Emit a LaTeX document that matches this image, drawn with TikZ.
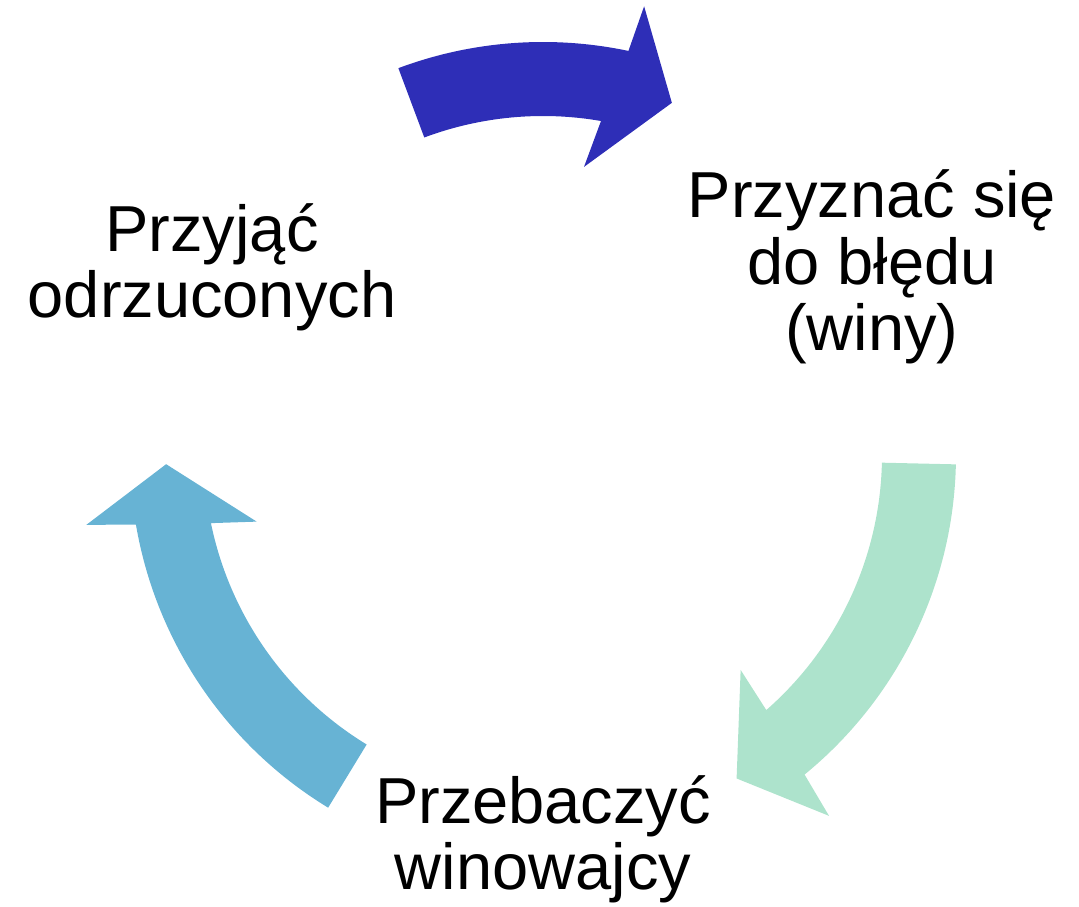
\documentclass[tikz,border=0pt]{standalone}
\usepackage{fontspec}
\setmainfont{Liberation Sans}
\definecolor{arrowtop}{RGB}{46,46,183}
\definecolor{arrowright}{RGB}{173,227,204}
\definecolor{arrowleft}{RGB}{103,179,212}
\tikzset{
  cyclelabel/.style={align=center, inner sep=0pt, anchor=base, font=\fontsize{65pt}{66.5pt}\selectfont},
}
\begin{document}
\begin{tikzpicture}[x=1pt,y=1pt]
\useasboundingbox (0,0) rectangle (1079,907);
\begin{scope}[shift={(543,452)}]
  % top arrow
  \fill[arrowtop] (110.5:413) arc[start angle=110.5, end angle=78.06, radius=413]
    -- (77.3:460) -- (69.9:375) -- (81.9:291) -- (80.15:339)
    arc[start angle=80.15, end angle=110.5, radius=339] -- cycle;
  % right arrow
  \fill[arrowright] (-1.3:413) arc[start angle=-1.3, end angle=-50.7, radius=413]
    -- (-51.6:460.5) -- (-59.1:377) -- (-47.4:292) -- (-48.8:339)
    arc[start angle=-48.8, end angle=-1.3, radius=339] -- cycle;
  % left arrow
  \fill[arrowleft] (-121.35:413) arc[start angle=-121.35, end angle=-170.3, radius=413]
    -- (-171.3:462) -- (-178.6:377) -- (-166.9:294) -- (-168.4:339)
    arc[start angle=-168.4, end angle=-121.35, radius=339] -- cycle;
\end{scope}
\node[cyclelabel] (accept) at (212,589) {Przyjąć\\odrzuconych};
\node[cyclelabel] (admit) at (872,556) {Przyznać się\\do błędu\\(winy)};
\node[cyclelabel] (forgive) at (543,17) {Przebaczyć\\winowajcy};
\end{tikzpicture}
\end{document}
